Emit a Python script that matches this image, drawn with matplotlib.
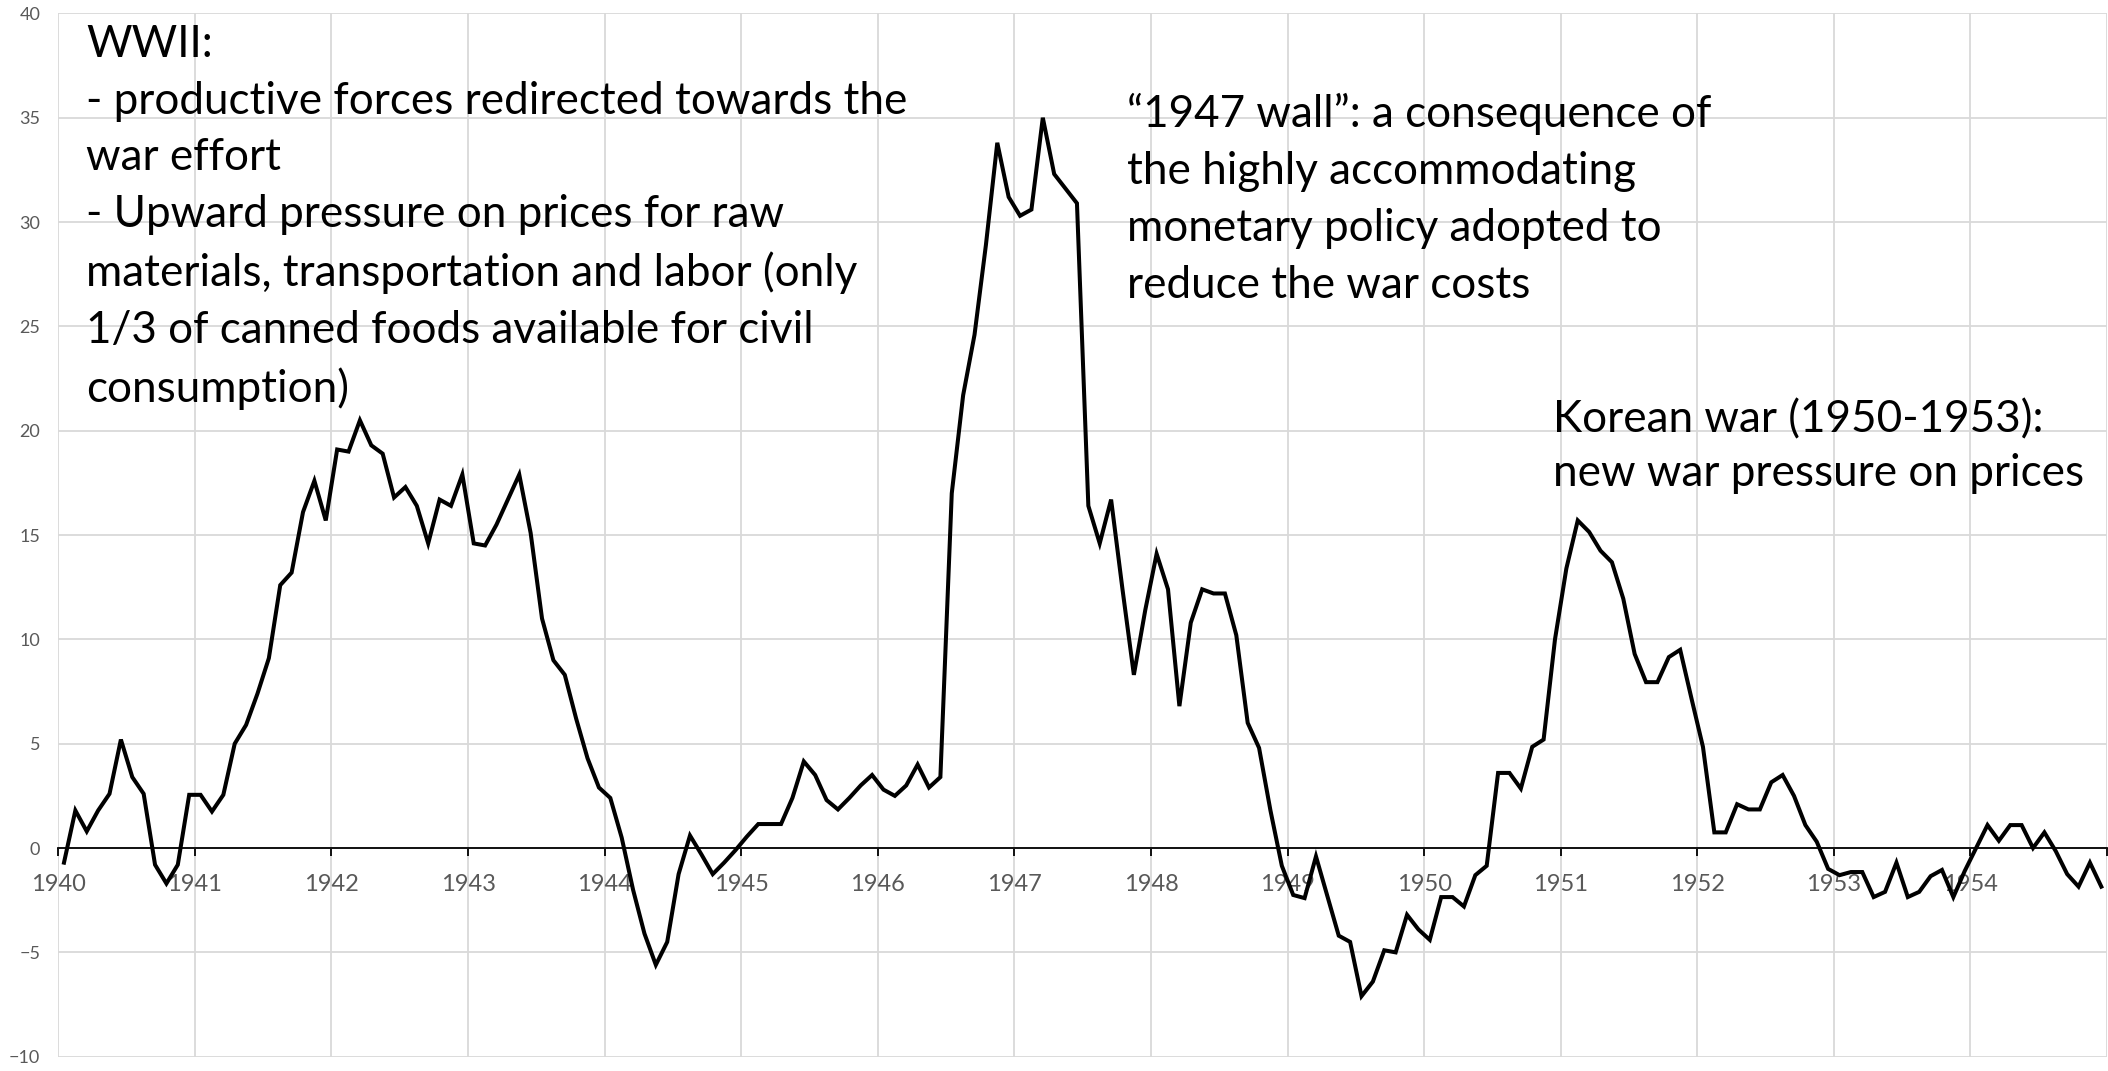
import numpy as np
import matplotlib.pyplot as plt

plt.rcParams['font.family'] = ['Lato', 'DejaVu Sans']

# monthly inflation rate (%), one list per year
y1940 = [-0.7, 1.8, 0.8, 1.8, 2.6, 5.2, 3.4, 2.6, -0.8, -1.7, -0.8, 2.55]
y1941 = [2.55, 1.75, 2.55, 5.0, 5.9, 7.4, 9.1, 12.6, 13.2, 16.1, 17.6, 15.7]
y1942 = [19.1, 19.0, 20.5, 19.3, 18.9, 16.8, 17.3, 16.4, 14.6, 16.7, 16.4, 17.9]
y1943 = [14.6, 14.5, 15.5, 16.7, 17.9, 15.1, 11.0, 9.0, 8.3, 6.2, 4.3, 2.9]
y1944 = [2.4, 0.5, -2.0, -4.1, -5.6, -4.5, -1.25, 0.6, -0.3, -1.25, -0.7, -0.1]
y1945 = [0.55, 1.15, 1.15, 1.15, 2.4, 4.15, 3.5, 2.3, 1.85, 2.4, 3.0, 3.5]
y1946 = [2.8, 2.5, 3.0, 4.0, 2.9, 3.4, 17.0, 21.7, 24.6, 28.9, 33.8, 31.2]
y1947 = [30.3, 30.6, 35.0, 32.3, 31.6, 30.9, 16.4, 14.6, 16.7, 12.4, 8.3, 11.4]
y1948 = [14.1, 12.4, 6.8, 10.8, 12.4, 12.2, 12.2, 10.2, 6.0, 4.8, 1.8, -0.85]
y1949 = [-2.25, -2.4, -0.4, -2.3, -4.2, -4.5, -7.1, -6.4, -4.9, -5.0, -3.2, -3.9]
y1950 = [-4.4, -2.35, -2.35, -2.8, -1.3, -0.85, 3.6, 3.6, 2.85, 4.85, 5.2, 10.0]
y1951 = [13.4, 15.7, 15.15, 14.25, 13.7, 11.95, 9.3, 7.95, 7.95, 9.15, 9.5, 7.15]
y1952 = [4.85, 0.75, 0.75, 2.1, 1.85, 1.85, 3.15, 3.5, 2.5, 1.1, 0.3, -1.0]
y1953 = [-1.3, -1.15, -1.15, -2.35, -2.1, -0.7, -2.35, -2.1, -1.35, -1.05, -2.35, -1.1]
y1954 = [0.0, 1.1, 0.35, 1.1, 1.1, 0.0, 0.75, -0.15, -1.25, -1.85, -0.7, -1.85]

years = list(range(1940, 1956))
yticks = list(range(-10, 45, 5))

wwii_note = ("WWII:\n- productive forces redirected towards the\nwar effort\n"
             "- Upward pressure on prices for raw\n"
             "materials, transportation and labor (only\n"
             "1/3 of canned foods available for civil\nconsumption)")
wall_note = ("\u201c1947 wall\u201d: a consequence of\nthe highly accommodating\n"
             "monetary policy adopted to\nreduce the war costs")
korea_note = "Korean war (1950-1953):\nnew war pressure on prices"

values = np.concatenate([y1940, y1941, y1942, y1943, y1944, y1945, y1946, y1947,
                         y1948, y1949, y1950, y1951, y1952, y1953, y1954])
months = 1940 + (np.arange(len(values)) + 0.5) / 12

W, H = 2108, 1071
fig = plt.figure(figsize=(W / 100, H / 100), dpi=100)
ax = fig.add_axes([58.3 / W, 14.3 / H, 2048.7 / W, 1043.3 / H])

ax.plot(months, values, color='black', lw=2.9, solid_joinstyle='miter', zorder=3)

ax.set_xlim(1940, 1955)
ax.set_ylim(-10, 40)
ax.set_xticks(years)
ax.set_xticklabels([str(y) if y < 1955 else '' for y in years])
ax.set_yticks(yticks)
ax.grid(True, color='#d9d9d9', lw=1.3)
ax.set_axisbelow(True)

for side in ['top', 'right', 'left']:
    ax.spines[side].set_visible(False)
ax.spines['bottom'].set_position(('data', 0))
ax.spines['bottom'].set_color('black')
ax.spines['bottom'].set_linewidth(1.3)
ax.spines['bottom'].set_zorder(2)

ax.tick_params(axis='x', direction='out', length=6, width=1.3, color='black',
               labelsize=17, labelcolor='#595959', pad=13)
ax.tick_params(axis='y', length=0, labelsize=13, labelcolor='#595959', pad=13)

fs = 31.7
fig.text(86 / W, 1 - 24 / H, wwii_note, fontsize=fs, va='top', ha='left',
         linespacing=1.475)
fig.text(1127 / W, 1 - 93 / H, wall_note, fontsize=fs, va='top', ha='left',
         linespacing=1.48)
fig.text(1553 / W, 1 - 399 / H, korea_note, fontsize=fs, va='top', ha='left',
         linespacing=1.38)

fig.savefig('out.png', dpi=100)
